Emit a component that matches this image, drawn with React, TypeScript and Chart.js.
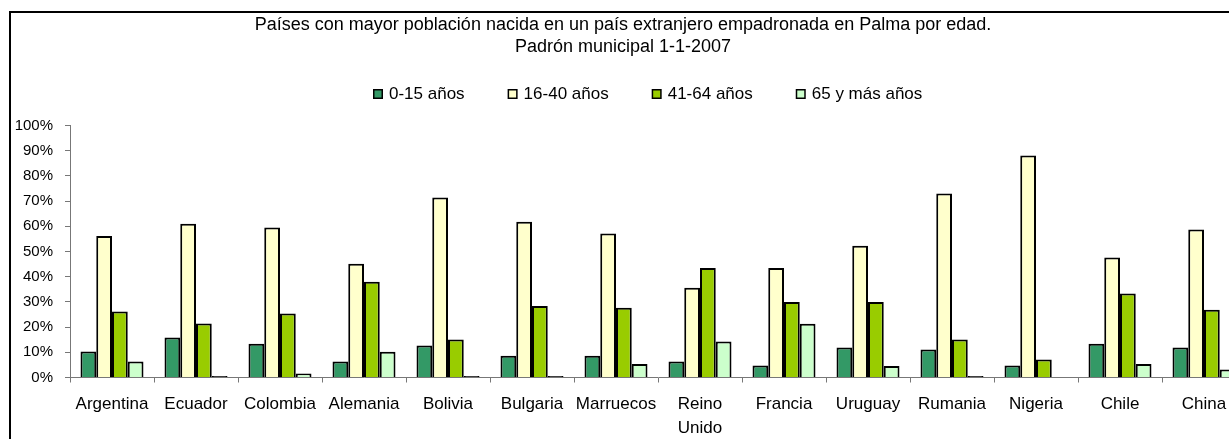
import React, { useEffect, useRef } from 'react';
import { Chart, registerables } from 'chart.js';

Chart.register(...registerables);

const FONT = '"Liberation Sans", Arial, Helvetica, sans-serif';

const titleLines = [
  'Países con mayor población nacida en un país extranjero empadronada en Palma por edad.',
  'Padrón municipal 1-1-2007',
];

const categories = [
  'Argentina', 'Ecuador', 'Colombia', 'Alemania', 'Bolivia', 'Bulgaria', 'Marruecos',
  'Reino Unido', 'Francia', 'Uruguay', 'Rumania', 'Nigeria', 'Chile', 'China',
];

const seriesLabels = ['0-15 años', '16-40 años', '41-64 años', '65 y más años'];
const seriesColors = ['#339966', '#FFFFCC', '#99CC00', '#CCFFCC'];

const age0to15 = [10.3, 15.9, 13.4, 6.3, 12.7, 8.6, 8.6, 6.3, 4.8, 11.9, 11.1, 4.8, 13.4, 11.9];
const age16to40 = [56.2, 61.0, 59.5, 45.1, 71.4, 61.8, 57.1, 35.6, 43.5, 52.3, 73.0, 88.1, 47.6, 58.7];
const age41to64 = [26.2, 21.4, 25.4, 38.0, 15.1, 28.4, 27.7, 43.5, 30.0, 30.0, 15.1, 7.1, 33.3, 26.9];
const age65plus = [6.3, 0.6, 1.6, 10.2, 0.6, 0.6, 5.4, 14.3, 21.3, 4.6, 0.6, 0, 5.4, 3.2];

const yMin = 0;
const yMax = 100;
const yStep = 10;

const LEGEND_START_X = 373;
const LEGEND_CENTER_Y = 94;
const LEGEND_GAP = 43;

const legendPlugin = {
  id: 'excelLegend',
  afterDraw(chart: any) {
    const ctx = chart.ctx as CanvasRenderingContext2D;
    ctx.save();
    ctx.font = `17px ${FONT}`;
    ctx.textBaseline = 'middle';
    ctx.textAlign = 'left';
    let x = LEGEND_START_X;
    const y = LEGEND_CENTER_Y;
    chart.data.datasets.forEach((ds: any, i: number) => {
      ctx.fillStyle = '#000';
      ctx.fillRect(x, y - 5, 10, 10);
      ctx.fillStyle = seriesColors[i];
      ctx.fillRect(x + 1.5, y - 3.5, 7, 7);
      ctx.fillStyle = '#000';
      ctx.fillText(ds.label, x + 16, y);
      x += 16 + ctx.measureText(ds.label).width + LEGEND_GAP;
    });
    ctx.restore();
  },
};

export default function App() {
  const ref = useRef<HTMLCanvasElement>(null);

  useEffect(() => {
    const series = [age0to15, age16to40, age41to64, age65plus];
    const chart = new Chart(ref.current as HTMLCanvasElement, {
      type: 'bar',
      data: {
        labels: categories.map((c) => (c === 'Reino Unido' ? c.split(' ') : c)),
        datasets: series.map((data, i) => ({
          label: seriesLabels[i],
          data,
          backgroundColor: (ctx: any) => {
            const v = ctx.raw;
            return typeof v === 'number' && v > 0 && v < 1 ? '#000' : seriesColors[i];
          },
          borderColor: '#000',
          borderWidth: 2,
          categoryPercentage: 0.75,
          barPercentage: 1,
        })),
      },
      options: {
        responsive: false,
        animation: false,
        layout: { padding: { left: 0, right: 14, top: 0, bottom: 0 } },
        plugins: {
          legend: { display: false },
          tooltip: { enabled: false },
          title: {
            display: true,
            text: titleLines,
            color: '#000',
            font: { family: FONT, size: 18, weight: 'normal', lineHeight: '22px' },
            padding: { top: 14, bottom: 67.5 },
          },
        },
        scales: {
          x: {
            grid: { drawOnChartArea: false, tickLength: 5, color: '#777', offset: true },
            border: { color: '#777', width: 1 },
            ticks: {
              autoSkip: false,
              maxRotation: 0,
              minRotation: 0,
              padding: 10,
              color: '#000',
              font: { family: FONT, size: 17, lineHeight: 1.4 },
            },
            afterFit: (s: any) => {
              s.height = 61.5;
            },
          },
          y: {
            min: yMin,
            max: yMax,
            ticks: {
              stepSize: yStep,
              callback: (v: any) => `${v}%`,
              padding: 12,
              color: '#000',
              font: { family: FONT, size: 15 },
            },
            grid: { drawOnChartArea: false, tickLength: 5, color: '#777' },
            border: { color: '#777', width: 1 },
            afterFit: (s: any) => {
              s.width = 70;
            },
          },
        },
      },
      plugins: [legendPlugin],
    } as any);
    return () => chart.destroy();
  }, []);

  return (
    <div
      style={{
        position: 'absolute',
        left: 0,
        top: 0,
        width: 1229,
        height: 439,
        overflow: 'hidden',
        background: '#fff',
      }}
    >
      <div
        style={{
          position: 'absolute',
          left: 9,
          top: 11,
          width: 1400,
          height: 600,
          borderLeft: '2px solid #000',
          borderTop: '2px solid #000',
        }}
      />
      <canvas
        ref={ref}
        width={1260}
        height={439}
        style={{ position: 'absolute', left: 0, top: 0, width: 1260, height: 439 }}
      />
    </div>
  );
}
